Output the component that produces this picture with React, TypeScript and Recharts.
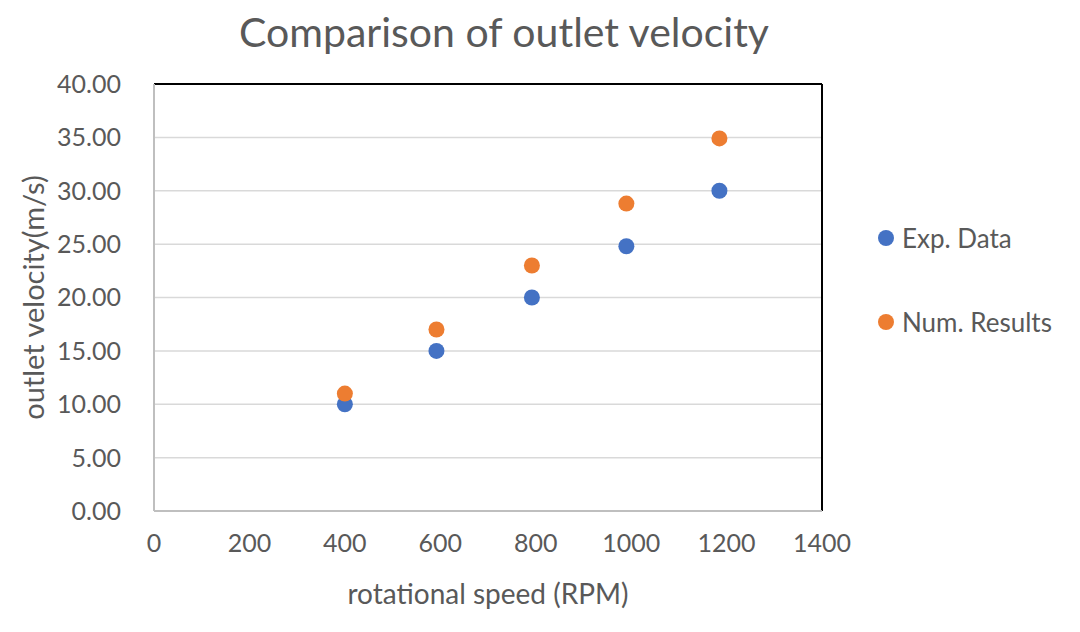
import React from 'react';
import {
  ScatterChart,
  Scatter,
  XAxis,
  YAxis,
  CartesianGrid,
  Legend,
  ReferenceLine,
} from 'recharts';

// rotational speed (RPM) at each test point
const speedExp = [400, 592, 792, 990, 1185];
const speedNum = [400, 592, 792, 990, 1185];

// outlet velocity (m/s)
const velocityExp = [10.0, 15.0, 20.0, 24.8, 30.0];
const velocityNum = [11.0, 17.0, 23.0, 28.8, 34.9];

const xTicks = [0, 200, 400, 600, 800, 1000, 1200, 1400];
const yTicks = [0, 5, 10, 15, 20, 25, 30, 35, 40];

const BLUE = '#4472C4';
const ORANGE = '#ED7D31';
const TEXT = '#595959';
const FONT = 'Lato, "Open Sans", sans-serif';

const expData = speedExp.map((rpm, i) => ({ rpm, v: velocityExp[i] }));
const numData = speedNum.map((rpm, i) => ({ rpm, v: velocityNum[i] }));

const dot = (color: string) => (props: any) =>
  <circle cx={props.cx} cy={props.cy} r={8} fill={color} />;

const renderLegend = (props: any) => (
  <div style={{ fontFamily: FONT, fontSize: 26, color: TEXT }}>
    {(props.payload || []).map((item: any, idx: number) => (
      <div
        key={idx}
        style={{ display: 'flex', alignItems: 'center', height: 40, marginBottom: idx === 0 ? 44 : 0 }}
      >
        <span
          style={{
            width: 16,
            height: 16,
            borderRadius: 8,
            background: item.color,
            display: 'inline-block',
            marginRight: 8,
          }}
        />
        <span>{item.value}</span>
      </div>
    ))}
  </div>
);

export default function App() {
  return (
    <div
      style={{
        position: 'absolute',
        left: 0,
        top: 0,
        width: 1080,
        height: 632,
        background: '#fff',
        fontFamily: FONT,
      }}
    >
      <div
        style={{
          position: 'absolute',
          left: 0,
          width: 1008,
          top: 7,
          textAlign: 'center',
          fontSize: 41,
          color: TEXT,
          lineHeight: '50px',
        }}
      >
        Comparison of outlet velocity
      </div>
      {/* legend box is 202px wide, so right margin + 202 keeps the plot edge at x=822 */}
      <ScatterChart width={1080} height={632} margin={{ top: 84, right: 56, bottom: 21, left: 34 }}>
        <CartesianGrid vertical={false} stroke="#D9D9D9" strokeWidth={1.5} />
        <XAxis
          type="number"
          dataKey="rpm"
          domain={[0, 1400]}
          ticks={xTicks}
          height={100}
          tickLine={false}
          tickSize={0}
          tickMargin={23}
          axisLine={{ stroke: '#BFBFBF', strokeWidth: 2 }}
          tick={{ fill: TEXT, fontSize: 25, fontFamily: FONT }}
          label={{
            value: 'rotational speed (RPM)',
            position: 'insideBottom',
            offset: 7,
            fill: TEXT,
            fontSize: 28,
            fontFamily: FONT,
          }}
        />
        <YAxis
          type="number"
          dataKey="v"
          domain={[0, 40]}
          ticks={yTicks}
          width={120}
          tickLine={false}
          tickSize={0}
          tickMargin={33}
          axisLine={{ stroke: '#BFBFBF', strokeWidth: 2 }}
          tickFormatter={(v: number) => v.toFixed(2)}
          tick={{ fill: TEXT, fontSize: 25, fontFamily: FONT }}
          label={{
            value: 'outlet velocity(m/s)',
            angle: -90,
            position: 'insideLeft',
            offset: 0,
            fill: TEXT,
            fontSize: 29,
            fontFamily: FONT,
            style: { textAnchor: 'middle' },
          }}
        />
        <ReferenceLine y={40} stroke="#000" strokeWidth={2} />
        <ReferenceLine x={1400} stroke="#000" strokeWidth={2} />
        <Legend
          layout="vertical"
          align="right"
          verticalAlign="middle"
          content={renderLegend}
          wrapperStyle={{ left: 878, top: 218, width: 202 }}
        />
        <Scatter name="Exp. Data" data={expData} fill={BLUE} shape={dot(BLUE)} isAnimationActive={false} />
        <Scatter name="Num. Results" data={numData} fill={ORANGE} shape={dot(ORANGE)} isAnimationActive={false} />
      </ScatterChart>
    </div>
  );
}
